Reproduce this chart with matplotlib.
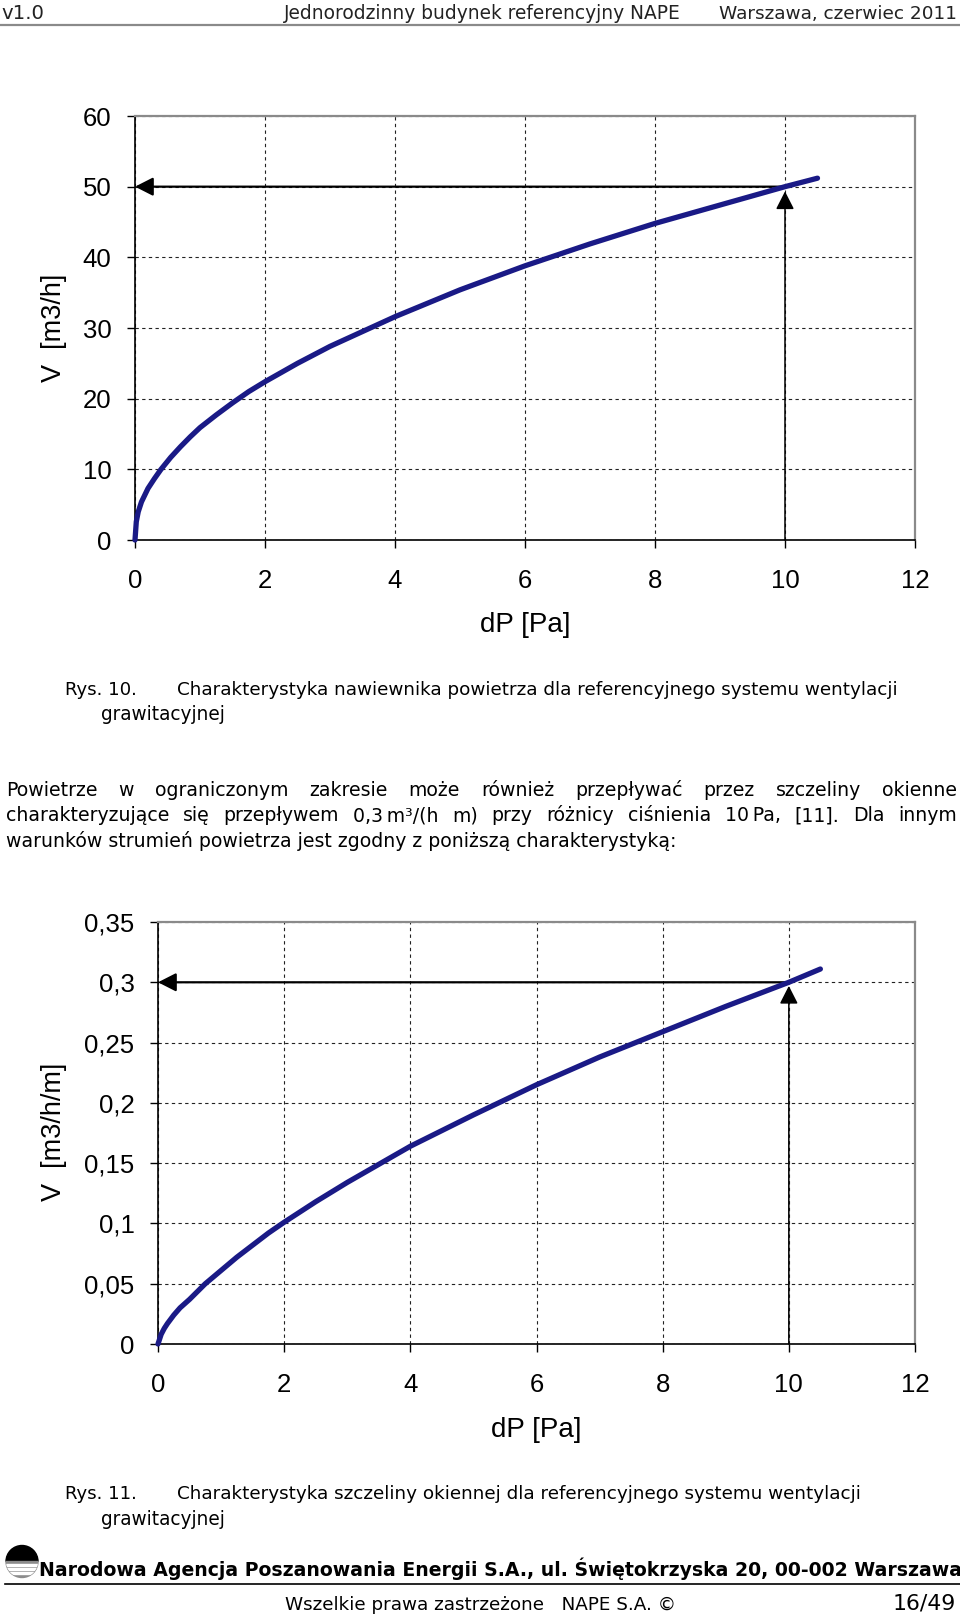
import matplotlib
matplotlib.use("Agg")
import matplotlib.pyplot as plt
from matplotlib.patches import Circle, Rectangle, Wedge

W, H = 960, 1616
TEXT_FONT = "DejaVu Sans"
CHART_FONT = "Liberation Sans"
CURVE_COLOR = "#1a1a86"

# Rys. 10 - air inlet characteristic
DP_INLET = [0, 0.02, 0.05, 0.1, 0.2, 0.3, 0.4, 0.55, 0.7, 0.85, 1.0, 1.25, 1.5, 1.75, 2.0, 2.5, 3.0, 4.0, 5.0,
            6.0, 7.0, 8.0, 9.0, 10.0, 10.5]
V_INLET = [0, 2.6, 4.0, 5.4, 7.3, 8.7, 10.0, 11.7, 13.2, 14.6, 15.9, 17.7, 19.4, 21.0, 22.4, 25.0, 27.4, 31.6,
           35.4, 38.8, 41.9, 44.8, 47.4, 50.0, 51.2]
Y_TICKS_INLET = [0, 10, 20, 30, 40, 50, 60]
Y_LABELS_INLET = ["0", "10", "20", "30", "40", "50", "60"]

# Rys. 11 - window gap characteristic
DP_GAP = [0, 0.05, 0.1, 0.15, 0.25, 0.35, 0.5, 0.75, 1.0, 1.25, 1.5, 1.75, 2.0, 2.5, 3.0, 4.0, 5.0, 6.0, 7.0,
          8.0, 9.0, 10.0, 10.5]
V_GAP = [0, 0.008, 0.013, 0.017, 0.024, 0.030, 0.037, 0.050, 0.061, 0.072, 0.082, 0.092, 0.101, 0.118, 0.134,
         0.164, 0.190, 0.215, 0.238, 0.259, 0.280, 0.300, 0.311]
Y_TICKS_GAP = [0, 0.05, 0.1, 0.15, 0.2, 0.25, 0.3, 0.35]
Y_LABELS_GAP = ["0", "0,05", "0,1", "0,15", "0,2", "0,25", "0,3", "0,35"]

X_TICKS = [0, 2, 4, 6, 8, 10, 12]
X_LABELS = ["0", "2", "4", "6", "8", "10", "12"]
REF_DP = 10
REF_V_INLET = 50
REF_V_GAP = 0.3

PARAGRAPH = [
    ["Powietrze", "w", "ograniczonym", "zakresie", "może", "również", "przepływać", "przez", "szczeliny", "okienne"],
    ["charakteryzujące", "się", "przepływem", "0,3\u2009m³/(h", "m)", "przy", "różnicy", "ciśnienia", "10\u2009Pa,", "[11].", "Dla", "innym"],
]
PARAGRAPH_LAST = "warunków strumień powietrza jest zgodny z poniższą charakterystyką:"

fig = plt.figure(figsize=(W / 100, H / 100), dpi=100)
page = fig.add_axes([0, 0, 1, 1])
page.set_xlim(0, W)
page.set_ylim(H, 0)
page.axis("off")
renderer = fig.canvas.get_renderer()


def baseline(y, size):
    # y is the visual middle of the capitals, size in points
    return y + 0.36 * size * 100 / 72


def fit(x0, x1, y, s, size=12, **kw):
    kw.setdefault("family", TEXT_FONT)
    t = page.text(x0, y, s, ha="left", va="baseline", fontsize=size, **kw)
    w = t.get_window_extent(renderer).width
    size = size * (x1 - x0) / w
    t.set_fontsize(size)
    t.set_y(baseline(y, size))
    return t


def justify(x0, x1, y, words, size):
    yb = baseline(y, size)
    texts = [page.text(0, yb, w, ha="left", va="baseline", fontsize=size, family=TEXT_FONT) for w in words]
    widths = [t.get_window_extent(renderer).width for t in texts]
    gap = (x1 - x0 - sum(widths)) / (len(words) - 1)
    x = x0
    for t, w in zip(texts, widths):
        t.set_x(x)
        x += w + gap


def chart(box, dp, v, yticks, ylabels, ref_v, tip_shrink, ylabel, xlabel_pos, ylabel_pos):
    left, top, right, bottom = box
    ax = fig.add_axes([left / W, 1 - bottom / H, (right - left) / W, (bottom - top) / H])
    ax.set_xlim(0, 12)
    ax.set_ylim(yticks[0], yticks[-1])
    ax.set_xticks(X_TICKS)
    ax.set_xticklabels(X_LABELS, family=CHART_FONT)
    ax.set_yticks(yticks)
    ax.set_yticklabels(ylabels, family=CHART_FONT)
    ax.tick_params(axis="both", direction="out", length=6, width=1, labelsize=18.5)
    ax.tick_params(axis="y", pad=11)
    ax.tick_params(axis="x", pad=15)
    ax.set_axisbelow(True)
    ax.grid(True, color="#222222", lw=0.8, linestyle=(0, (3, 3)))
    for side in ["top", "right"]:
        ax.spines[side].set_color("#8a8a8a")
        ax.spines[side].set_linewidth(1.6)
    for side in ["left", "bottom"]:
        ax.spines[side].set_color("black")
        ax.spines[side].set_linewidth(1.2)

    # reading arrows
    ax.annotate("", xy=(0, ref_v), xytext=(REF_DP, ref_v),
                arrowprops=dict(arrowstyle="-|>,head_length=0.55,head_width=0.28", color="black",
                                lw=1.6, mutation_scale=20, shrinkA=0, shrinkB=0))
    ax.annotate("", xy=(REF_DP, ref_v), xytext=(REF_DP, 0),
                arrowprops=dict(arrowstyle="-|>,head_length=0.55,head_width=0.28", color="black",
                                lw=1.1, mutation_scale=20, shrinkA=0, shrinkB=tip_shrink))
    ax.plot(dp, v, color=CURVE_COLOR, lw=3.8, solid_capstyle="round", solid_joinstyle="round",
            clip_on=False, zorder=5)

    page.text(xlabel_pos[0], xlabel_pos[1], "dP [Pa]", ha="center", va="center", fontsize=20, family=CHART_FONT)
    page.text(ylabel_pos[0], ylabel_pos[1], ylabel, ha="center", va="center", rotation=90, fontsize=19.5,
              family=CHART_FONT)
    return ax


# header
fit(1, 44, 12, "v1.0", color="#222222")
fit(284, 679, 12, "Jednorodzinny budynek referencyjny NAPE", color="#222222")
fit(719, 957, 12, "Warszawa, czerwiec 2011", color="#222222")
page.plot([0, W], [25, 25], color="#8a8a8a", lw=1.6)

chart((135, 116, 915, 540), DP_INLET, V_INLET, Y_TICKS_INLET, Y_LABELS_INLET, REF_V_INLET, 3.4,
      "V  [m3/h]", (525, 625), (54, 328))

fit(65, 137, 688, "Rys. 10.")
fit(177, 897, 688, "Charakterystyka nawiewnika powietrza dla referencyjnego systemu wentylacji")
fit(101, 225, 713.5, "grawitacyjnej")

last = fit(6, 674, 840, PARAGRAPH_LAST)
size = last.get_fontsize()
justify(6, 957, 789, PARAGRAPH[0], size)
justify(6, 957, 814.6, PARAGRAPH[1], size)

chart((158, 922, 915, 1344), DP_GAP, V_GAP, Y_TICKS_GAP, Y_LABELS_GAP, REF_V_GAP, 2.6,
      "V  [m3/h/m]", (536, 1430), (54, 1132))

fit(65, 137, 1492, "Rys. 11.")
fit(177, 858, 1492, "Charakterystyka szczeliny okiennej dla referencyjnego systemu wentylacji")
fit(101, 225, 1518, "grawitacyjnej")

# footer logo
cx, cy, r = 22, 1561.5, 16
page.add_patch(Wedge((cx, cy), r, 180, 360, color="black"))
disk = Circle((cx, cy), r, transform=page.transData, fill=False, lw=0)
page.add_patch(disk)
lower = Wedge((cx, cy), r, 0, 180, color="#8c8c8c")
page.add_patch(lower)
for off in [2.5, 6.5, 10.5]:
    band = Rectangle((cx - r, cy + off), 2 * r, 1.6, color="white")
    page.add_patch(band)
    band.set_clip_path(disk)

fit(39, 956, 1569, "Narodowa Agencja Poszanowania Energii S.A., ul. Świętokrzyska 20, 00-002 Warszawa",
    weight="bold")
page.plot([5, W], [1584, 1584], color="black", lw=1.2)
fit(285, 675, 1603, "Wszelkie prawa zastrzeżone   NAPE S.A. ©")
fit(893, 956, 1602, "16/49")

fig.savefig("out.png", dpi=100)
